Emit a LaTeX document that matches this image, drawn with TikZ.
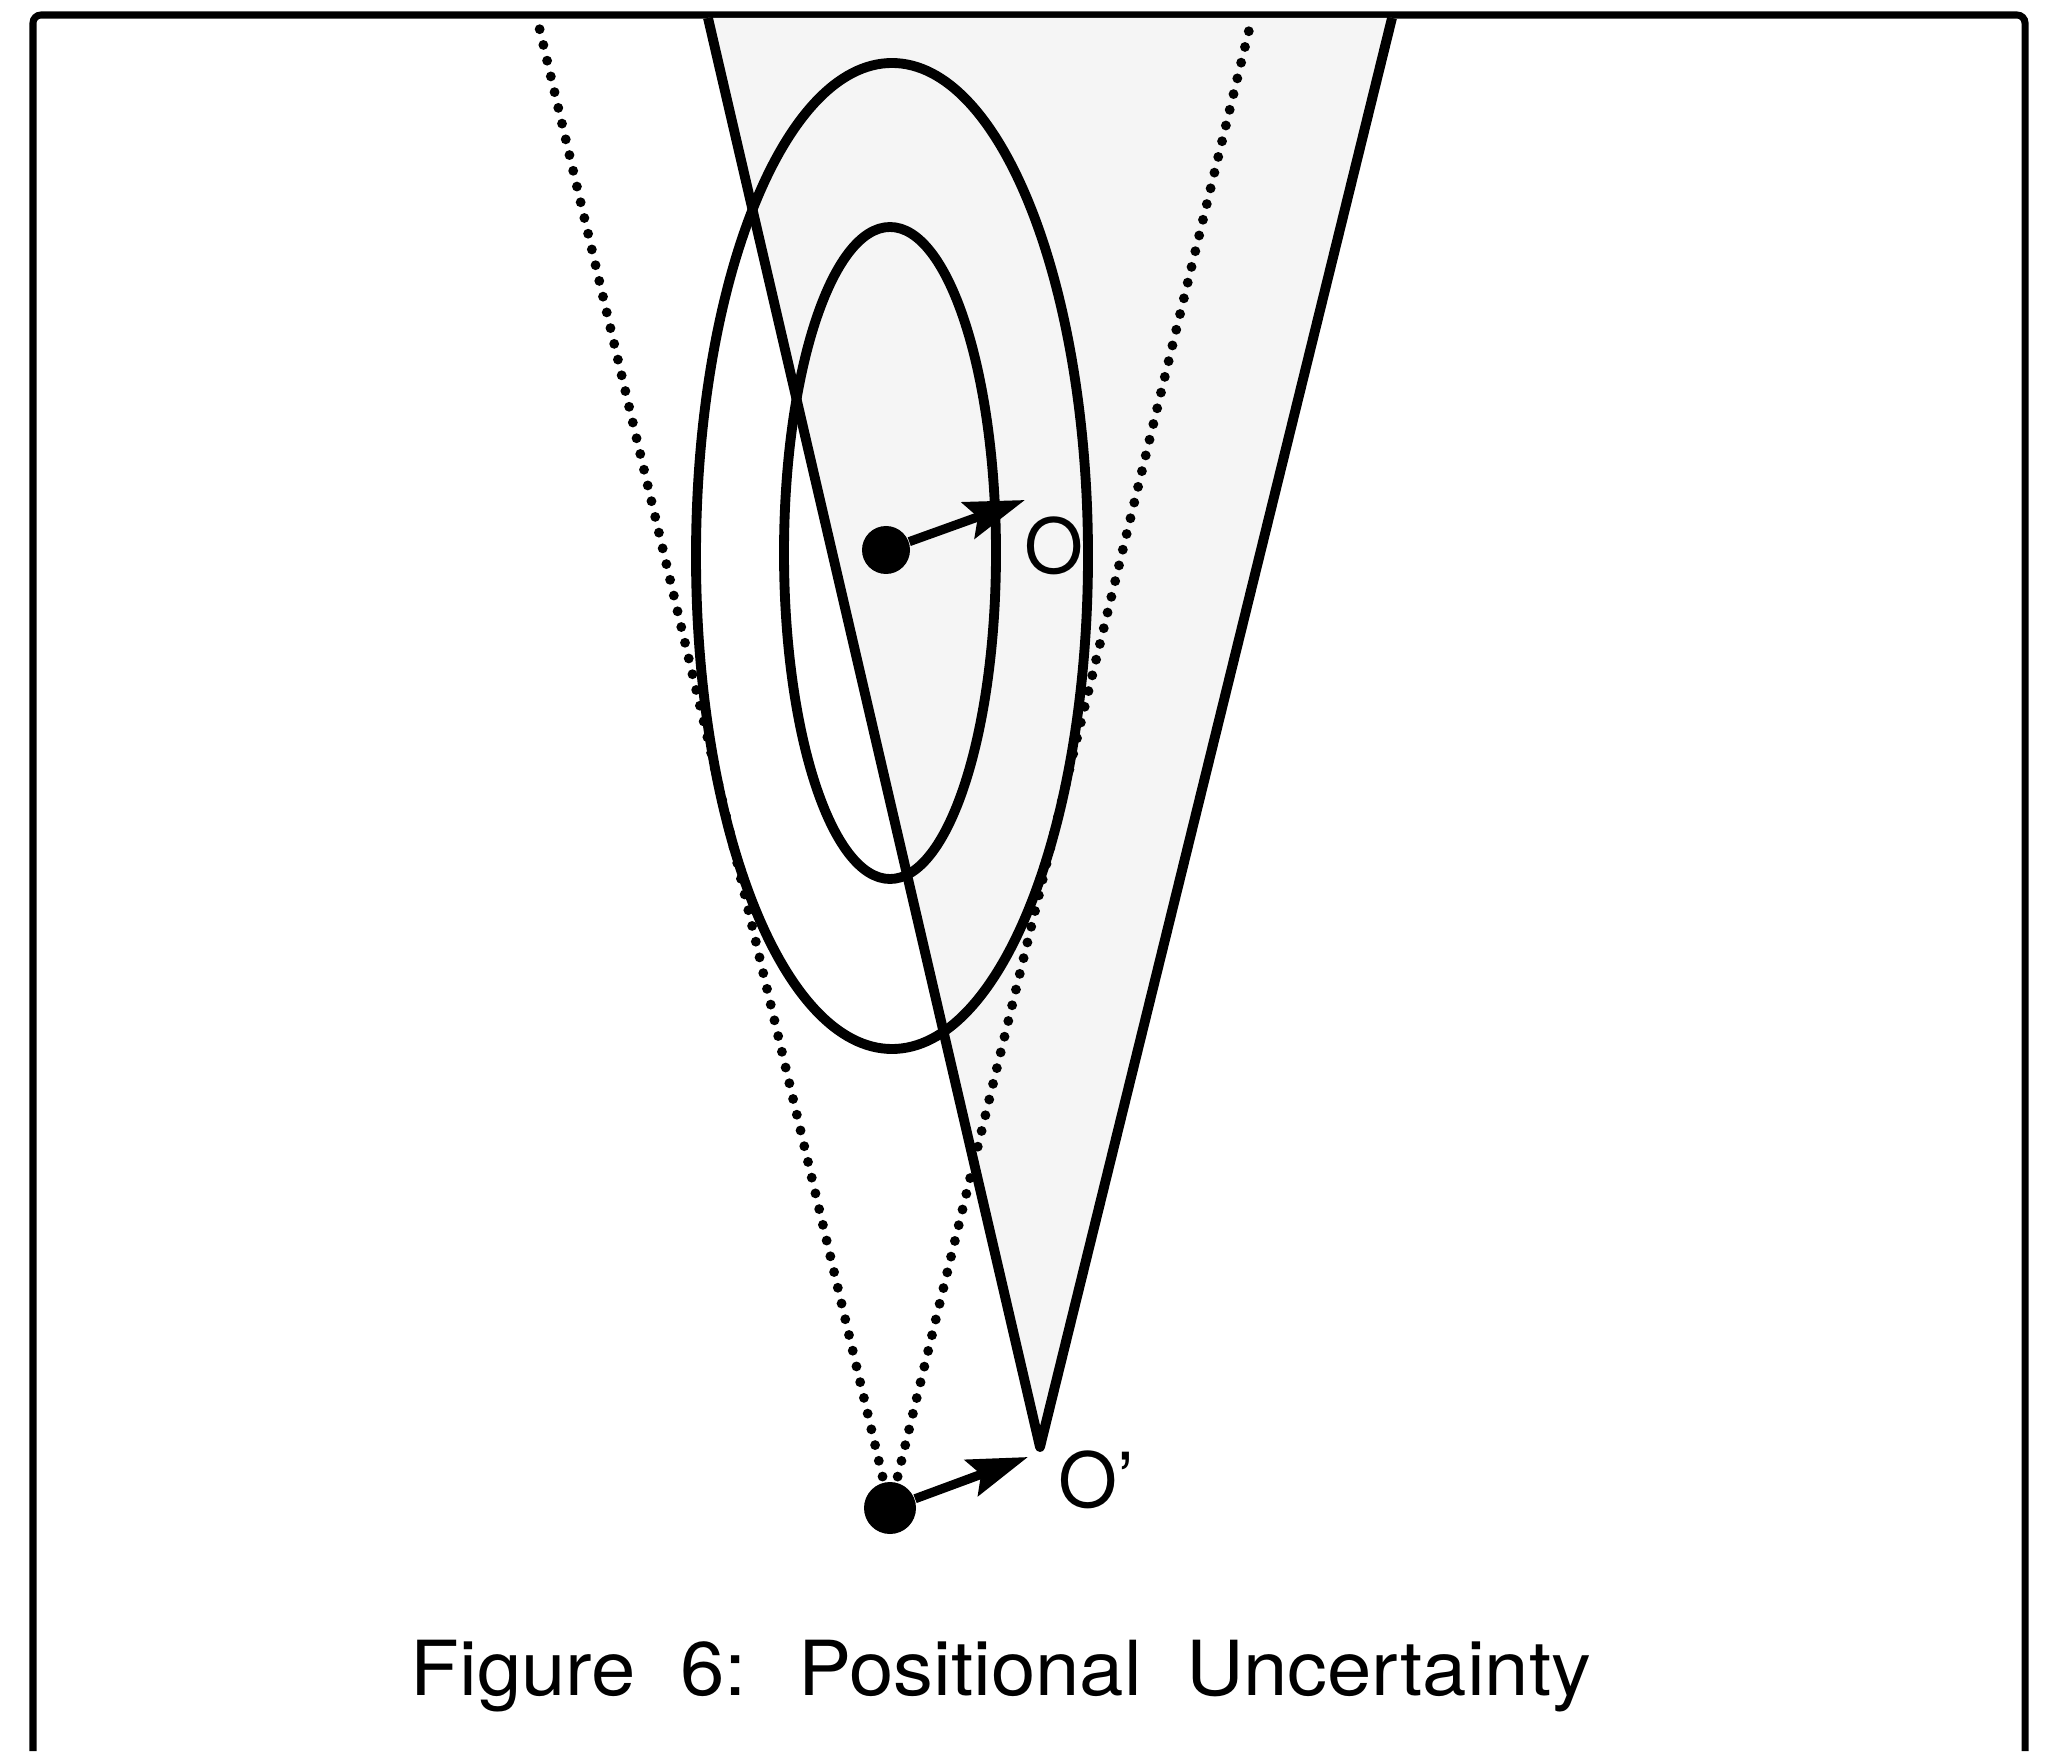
\documentclass[tikz,border=0pt]{standalone}
\usepackage{fontspec}
\setmainfont{TeX Gyre Heros}
\newfontfamily\capfont[WordSpace=2.0, FakeStretch=1.05]{TeX Gyre Heros}
\usepackage{tikz}
\usetikzlibrary{arrows.meta}

\begin{document}
\begin{tikzpicture}[
  dot/.style={circle, fill=black, inner sep=0pt},
  solidline/.style={line width=2.8pt},
  dotline/.style={line width=2.8pt, line cap=round, dash pattern=on 0pt off 4.6pt},
  vec/.style={line width=2.6pt, -{Stealth[length=0.6cm, width=0.38cm, inset=0.1cm]}},
  lbl/.style={inner sep=0pt, font=\fontsize{21.6}{26}\selectfont}]
\useasboundingbox (0,0) rectangle (20.55,17.51);
\draw[line width=2pt, rounded corners=0.08cm] (0.33,0) -- (0.33,17.36) -- (20.25,17.36) -- (20.25,0);

\coordinate (apex) at (10.40,3.04);
\coordinate (vL) at (7.08,17.33);
\coordinate (vR) at (13.92,17.33);
\coordinate (dL) at (5.37,17.33);
\coordinate (dR) at (12.52,17.33);
\coordinate (estTip) at (10.25,12.51);
\coordinate (curTip) at (10.28,2.94);
\fill[black!4] (apex) -- (vL) -- (vR) -- cycle;

\node at (8.90,2.43) (cur)[dot, minimum size=0.52cm]{};
\node at (8.86,12.01) (est)[dot, minimum size=0.48cm]{};
\draw[dotline] (cur.center) -- (dL);
\draw[dotline] (cur.center) -- (dR);
\draw[solidline] (8.90,11.98) ellipse [x radius=1.06, y radius=3.26];
\draw[solidline] (8.92,11.95) ellipse [x radius=1.96, y radius=4.93];
\draw[solidline, line join=round] (vL) -- (apex) -- (vR);
\draw[vec] (est) -- (estTip);
\draw[vec] (cur) -- (curTip);

\node at (10.54,12.05) (lblO)[lbl]{O};
\node at (10.58,2.71) (lblOp)[lbl, anchor=west]{O'};
\node at (10.01,0.56) (caption)[lbl, anchor=base]{\capfont Figure 6: Positional Uncertainty};
\end{tikzpicture}
\end{document}
